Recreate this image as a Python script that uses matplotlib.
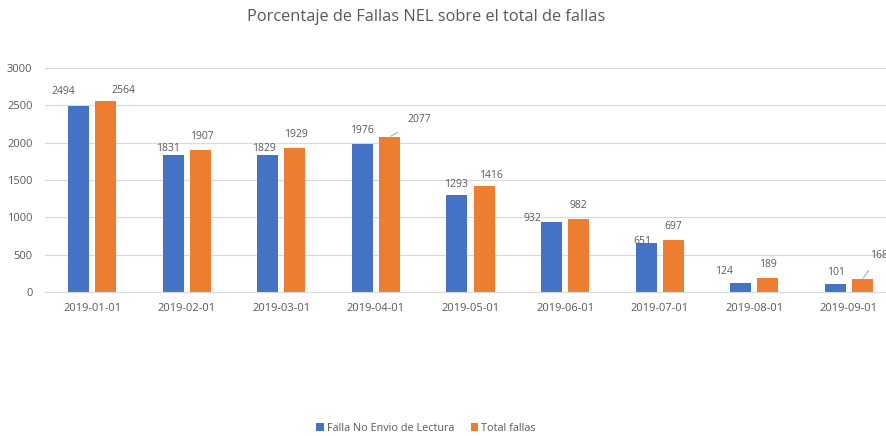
import matplotlib.pyplot as plt
import numpy as np

plt.rcParams['font.family'] = ['Open Sans', 'DejaVu Sans']

# data
fechas = ["2019-01-01", "2019-02-01", "2019-03-01", "2019-04-01", "2019-05-01",
          "2019-06-01", "2019-07-01", "2019-08-01", "2019-09-01"]
falla_nel = [2494, 1831, 1829, 1976, 1293, 932, 651, 124, 101]
total_fallas = [2564, 1907, 1929, 2077, 1416, 982, 697, 189, 168]
y_ticks = [0, 500, 1000, 1500, 2000, 2500, 3000]

# label offsets in pixels (dx, dy) from bar top, like Excel "best fit"
off_blue = [(-16, 14), (-5, 7), (-4, 7), (-1, 14), (-1, 11), (-19, 4), (-4, 2), (-17, 11), (1, 12)]
off_orange = [(18, 10), (1, 13), (1, 13), (30, 17), (7, 11), (0, 13), (0, 13), (0, 13), (17, 24)]
leaders = {3, 8}

BLUE = "#4472C4"
ORANGE = "#ED7D31"
TXT = "#595959"

fig = plt.figure(figsize=(8.86, 4.36), dpi=100)
ax = fig.add_axes([45 / 886, 1 - 292 / 436, 851 / 886, 224 / 436])

x = np.arange(len(fechas))
w = 0.222
b1 = ax.bar(x - 0.143, falla_nel, w, color=BLUE, label="Falla No Envio de Lectura", zorder=2)
b2 = ax.bar(x + 0.143, total_fallas, w, color=ORANGE, label="Total fallas", zorder=2)

for i, (r, v) in enumerate(zip(b1, falla_nel)):
    ax.annotate(str(v), (r.get_x() + r.get_width() / 2, v), xytext=off_blue[i],
                textcoords="offset pixels", ha="center", va="center",
                fontsize=7.5, color=TXT, zorder=3, annotation_clip=False)
for i, (r, v) in enumerate(zip(b2, total_fallas)):
    props = None
    if i in leaders:
        props = dict(arrowstyle="-", color="#a6a6a6", lw=0.7, shrinkA=6, shrinkB=1)
    ax.annotate(str(v), (r.get_x() + r.get_width() / 2, v), xytext=off_orange[i],
                textcoords="offset pixels", ha="center", va="center",
                fontsize=7.5, color=TXT, zorder=3, arrowprops=props,
                annotation_clip=False)

ax.set_xlim(-0.5, len(fechas) - 0.5)
ax.set_ylim(0, 3000)
ax.set_yticks(y_ticks)
ax.set_xticks(x)
ax.set_xticklabels(fechas)
ax.tick_params(axis="both", length=0, labelsize=8, colors=TXT)
ax.tick_params(axis="y", pad=9)
ax.tick_params(axis="x", pad=8)
ax.yaxis.grid(True, color="#d9d9d9", lw=0.8, zorder=0)
for s in ["top", "right", "left"]:
    ax.spines[s].set_visible(False)
ax.spines["bottom"].set_color("#d9d9d9")
ax.set_axisbelow(True)

fig.text(426 / 886, 1 - 17 / 436, "Porcentaje de Fallas NEL sobre el total de fallas",
         ha="center", va="center", fontsize=11.8, color=TXT)

fig.legend(handles=[b1, b2], loc="center", bbox_to_anchor=(426 / 886, 1 - 428 / 436),
           ncol=2, frameon=False, fontsize=7.8, handlelength=0.7, handleheight=0.7,
           handletextpad=0.3, columnspacing=1.5, labelcolor=TXT)

fig.savefig("out.png", dpi=100)
